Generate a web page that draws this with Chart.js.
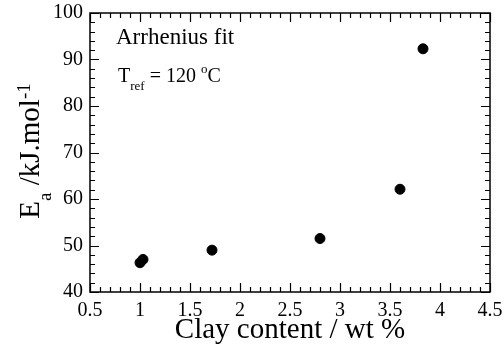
<!DOCTYPE html>
<html>
<head>
<meta charset="utf-8">
<script src="https://cdn.jsdelivr.net/npm/chart.js@4.4.1/dist/chart.umd.min.js"></script>
<style>
  body { margin: 0; background: #fff; }
  canvas { display: block; }
</style>
</head>
<body>
<canvas id="wykres" width="504" height="350"></canvas>
<script>
const clayContent = [1.0, 1.03, 1.72, 2.80, 3.60, 3.83];
const activationEnergy = [46.3, 47.0, 49.0, 51.5, 62.1, 92.3];
const xTitle = 'Clay content / wt %';
const fitLabel = 'Arrhenius fit';

const serif = '"Liberation Serif", "Times New Roman", serif';

// ramka i ticki skierowane do środka, na wszystkich 4 bokach
const ramkaPlugin = {
  id: 'ramka',
  afterDraw(chart) {
    const ctx = chart.ctx;
    const a = chart.chartArea;
    const sx = chart.scales.x;
    const sy = chart.scales.y;
    ctx.save();
    ctx.strokeStyle = '#000';
    ctx.lineWidth = 1.5;
    ctx.strokeRect(a.left, a.top, a.right - a.left, a.bottom - a.top);

    ctx.lineWidth = 1.2;
    ctx.beginPath();
    for (let i = 0; i <= 40; i++) {
      const v = 0.5 + i * 0.1;
      const len = i % 5 === 0 ? 9 : 5;
      const px = Math.round(sx.getPixelForValue(v)) + 0.5;
      ctx.moveTo(px, a.bottom); ctx.lineTo(px, a.bottom - len);
      ctx.moveTo(px, a.top); ctx.lineTo(px, a.top + len);
    }
    for (let i = 0; i <= 30; i++) {
      const v = 40 + i * 2;
      const len = i % 5 === 0 ? 9 : 5;
      const py = Math.round(sy.getPixelForValue(v)) + 0.5;
      ctx.moveTo(a.left, py); ctx.lineTo(a.left + len, py);
      ctx.moveTo(a.right, py); ctx.lineTo(a.right - len, py);
    }
    ctx.stroke();

    ctx.fillStyle = '#000';
    ctx.textBaseline = 'alphabetic';

    // tytuł osi X
    ctx.font = '29px ' + serif;
    ctx.textAlign = 'center';
    ctx.fillText(xTitle, (a.left + a.right) / 2, 338);

    // tytuł osi Y: E_a /kJ.mol^-1
    ctx.save();
    ctx.translate(39, 151);
    ctx.rotate(-Math.PI / 2);
    ctx.textAlign = 'left';
    const czesci = [
      { t: 'E', size: 29, dy: 0 },
      { t: 'a', size: 19, dy: 12 },
      { t: ' /kJ.mol', size: 29, dy: 0 },
      { t: '-1', size: 19, dy: -9 }
    ];
    let w = 0;
    czesci.forEach(c => { ctx.font = c.size + 'px ' + serif; w += ctx.measureText(c.t).width; });
    let x = -w / 2;
    czesci.forEach(c => {
      ctx.font = c.size + 'px ' + serif;
      ctx.fillText(c.t, x, c.dy);
      x += ctx.measureText(c.t).width;
    });
    ctx.restore();

    // adnotacje
    ctx.textAlign = 'left';
    ctx.font = '23px ' + serif;
    ctx.fillText(fitLabel, 116, 44);

    const tref = [
      { t: 'T', size: 20, dy: 0 },
      { t: 'ref', size: 13, dy: 8 },
      { t: ' = 120 ', size: 20, dy: 0 },
      { t: 'o', size: 13, dy: -9 },
      { t: 'C', size: 20, dy: 0 }
    ];
    let tx = 118;
    tref.forEach(c => {
      ctx.font = c.size + 'px ' + serif;
      ctx.fillText(c.t, tx, 82 + c.dy);
      tx += ctx.measureText(c.t).width;
    });
    ctx.restore();
  }
};

new Chart(document.getElementById('wykres').getContext('2d'), {
  type: 'scatter',
  data: {
    datasets: [{
      data: clayContent.map((c, i) => ({ x: c, y: activationEnergy[i] })),
      backgroundColor: '#000',
      borderColor: '#000',
      pointRadius: 5,
      pointHoverRadius: 5
    }]
  },
  options: {
    responsive: false,
    animation: false,
    layout: { padding: { top: 13, right: 14, left: 0, bottom: 0 } },
    plugins: {
      legend: { display: false },
      tooltip: { enabled: false }
    },
    scales: {
      x: {
        type: 'linear',
        min: 0.5,
        max: 4.5,
        afterFit: s => { s.height = 58; s.paddingLeft = 0; s.paddingRight = 0; },
        grid: { display: false, drawTicks: false },
        border: { display: false },
        ticks: {
          stepSize: 0.5,
          padding: 7,
          color: '#000',
          font: { family: serif, size: 20 },
          callback: v => String(+v.toFixed(1))
        }
      },
      y: {
        min: 40,
        max: 100,
        afterFit: s => { s.width = 90; s.paddingTop = 0; s.paddingBottom = 0; },
        grid: { display: false, drawTicks: false },
        border: { display: false },
        ticks: {
          stepSize: 10,
          padding: 7,
          color: '#000',
          font: { family: serif, size: 20 }
        }
      }
    }
  },
  plugins: [ramkaPlugin]
});
</script>
</body>
</html>
